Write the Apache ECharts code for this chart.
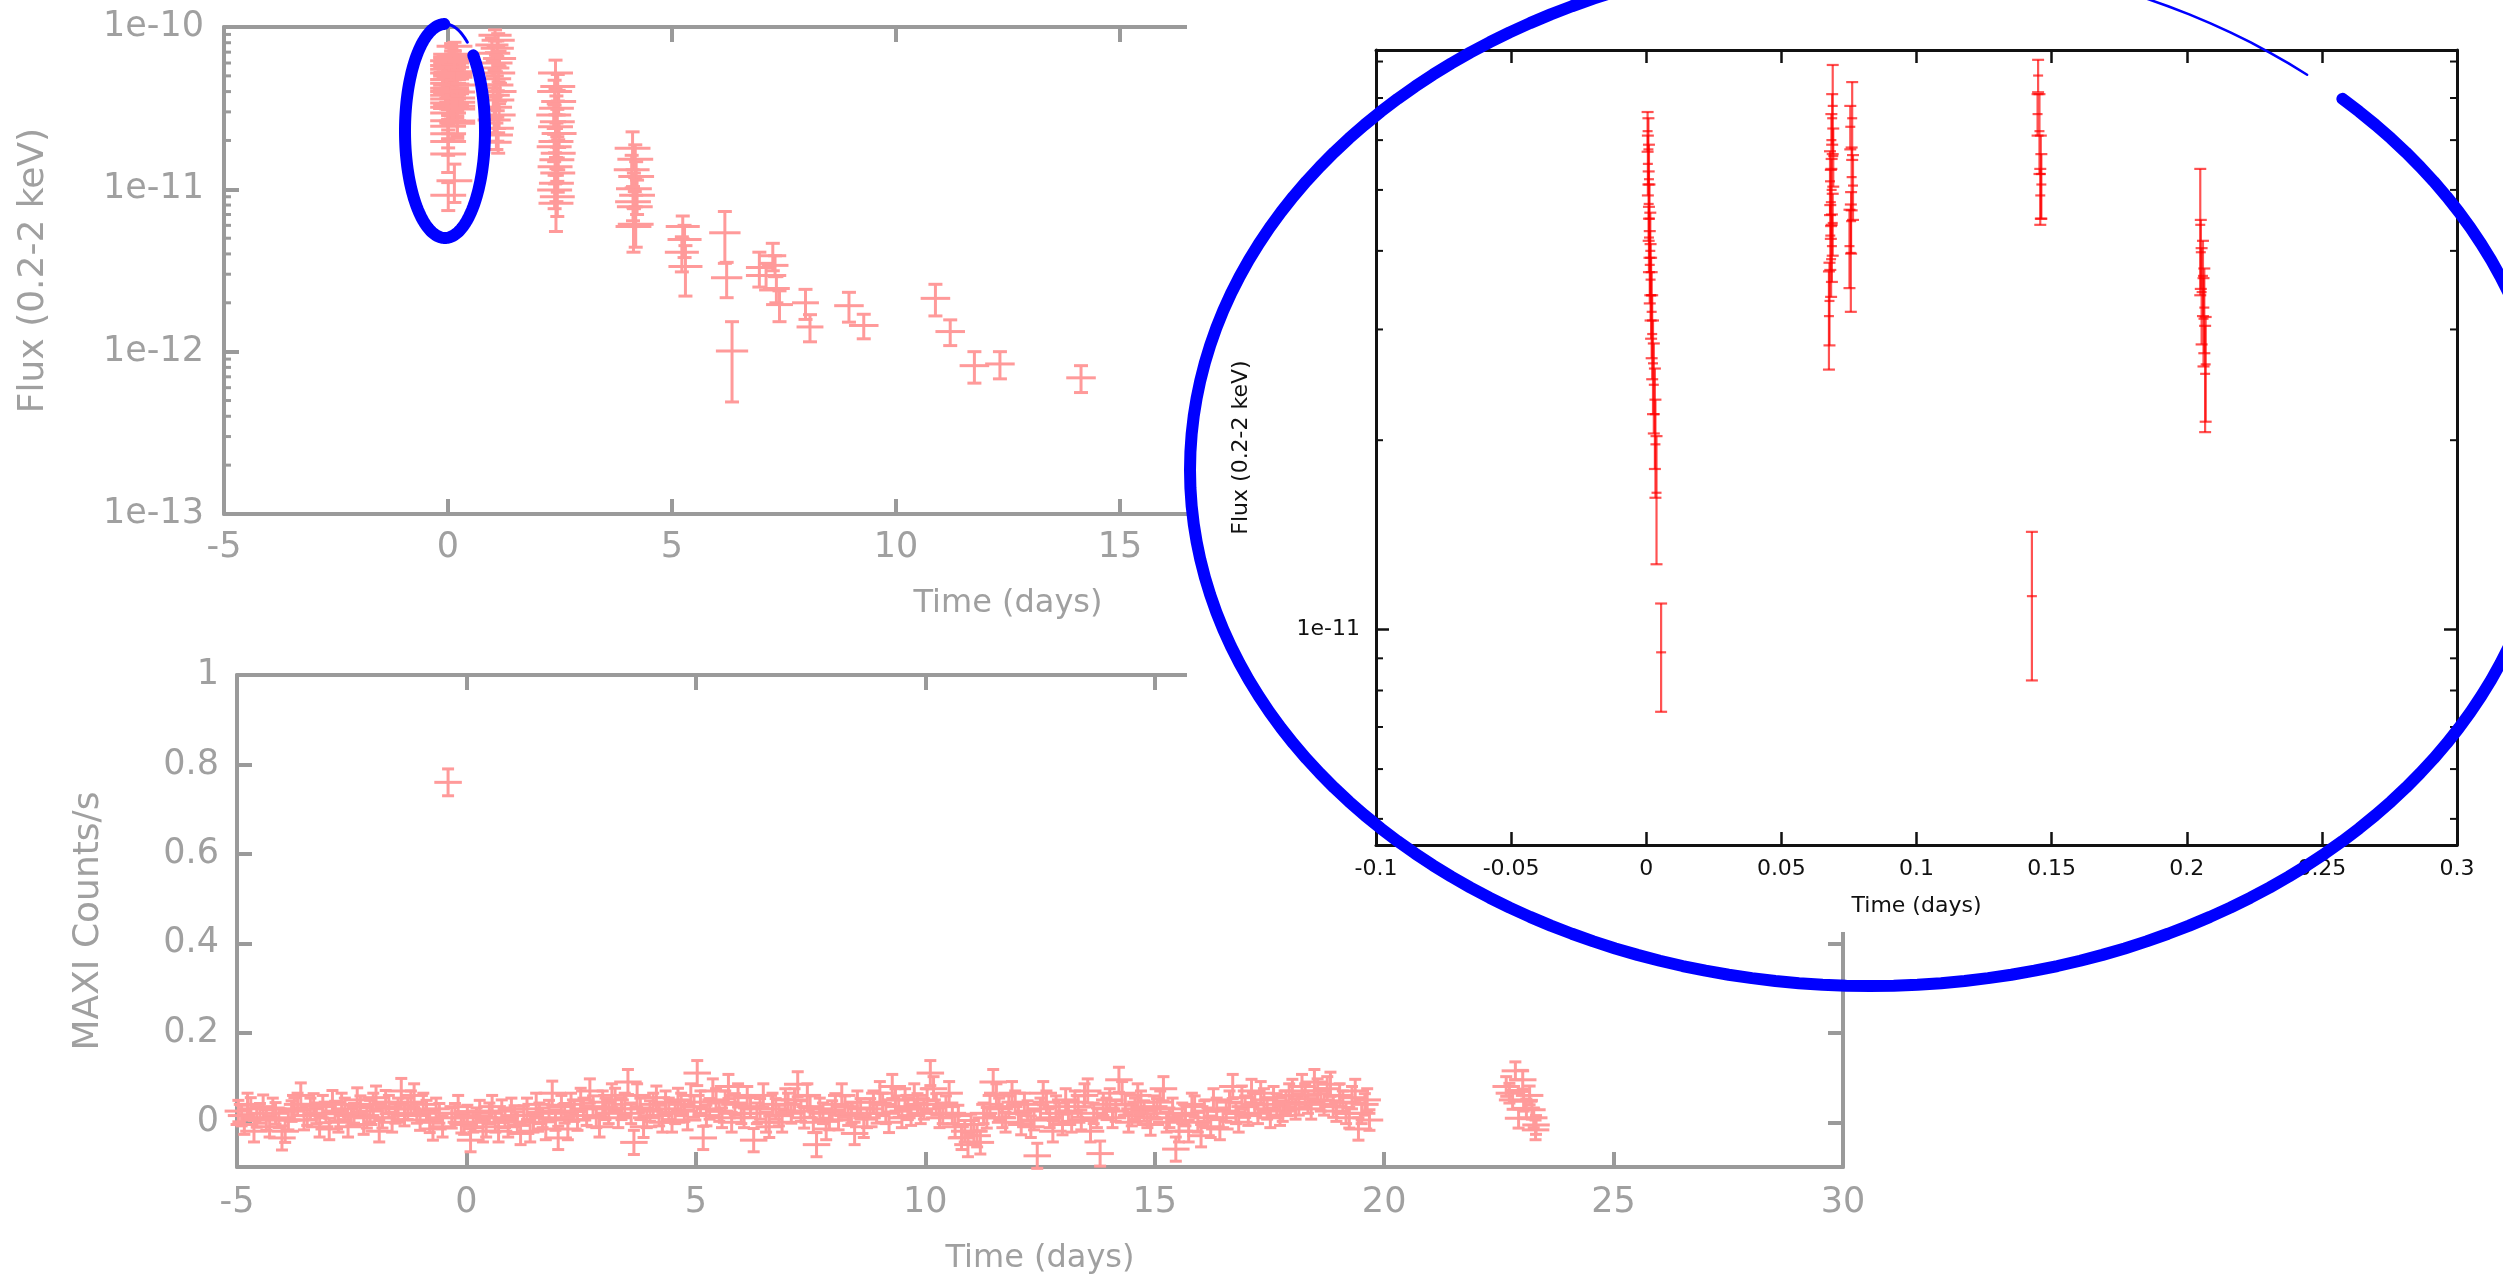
<!DOCTYPE html>
<html>
<head>
<meta charset="utf-8">
<title>Swift XRT and MAXI light curves</title>
<script src="https://cdn.jsdelivr.net/npm/echarts@6/dist/echarts.min.js"></script>
<style>
  html, body { margin: 0; padding: 0; background: #fff; }
  #chart { width: 2503px; height: 1281px; }
</style>
</head>
<body>
<div id="chart"></div>
<script>
// ---- Swift XRT, 0.2-2 keV flux, first day (rows: time [d], flux, 1-sigma error) ----
const xrtVisitA = [
  [0.0005, 6.2e-11, 0.45e-11], [0.0008, 5.8e-11, 0.7e-11], [0.0006, 5.5e-11, 0.6e-11],
  [0.0010, 5.2e-11, 0.7e-11], [0.0009, 4.75e-11, 0.6e-11], [0.0012, 4.5e-11, 0.6e-11],
  [0.0010, 4.2e-11, 0.5e-11], [0.0015, 4.0e-11, 0.6e-11], [0.0013, 3.8e-11, 0.5e-11],
  [0.0016, 3.6e-11, 0.5e-11], [0.0018, 3.4e-11, 0.5e-11], [0.0020, 3.2e-11, 0.5e-11],
  [0.0022, 2.95e-11, 0.45e-11], [0.0025, 2.65e-11, 0.45e-11], [0.0028, 2.45e-11, 0.4e-11],
  [0.0032, 2.2e-11, 0.4e-11], [0.0034, 1.97e-11, 0.35e-11], [0.0038, 1.65e-11, 0.38e-11],
  [0.0055, 9.2e-12, 1.8e-12]
];
const xrtVisitB = [
  [0.0690, 6.8e-11, 1.1e-11], [0.0688, 6.5e-11, 0.6e-11], [0.0685, 6.0e-11, 0.6e-11],
  [0.0692, 5.66e-11, 0.6e-11], [0.0680, 5.16e-11, 0.6e-11], [0.0686, 5.0e-11, 0.6e-11],
  [0.0683, 4.78e-11, 0.6e-11], [0.0690, 4.43e-11, 0.5e-11], [0.0681, 4.23e-11, 0.5e-11],
  [0.0687, 4.07e-11, 0.5e-11], [0.0684, 3.88e-11, 0.5e-11], [0.0678, 3.33e-11, 0.5e-11],
  [0.0676, 3.15e-11, 0.56e-11],
  [0.0762, 6.5e-11, 0.92e-11], [0.0755, 6.3e-11, 0.5e-11], [0.0760, 5.24e-11, 0.6e-11],
  [0.0765, 5.08e-11, 0.6e-11], [0.0758, 4.46e-11, 0.5e-11], [0.0752, 4.07e-11, 0.58e-11],
  [0.0757, 3.97e-11, 0.77e-11]
];
const xrtVisitC = [
  [0.1450, 7.6e-11, 0.45e-11], [0.1448, 6.6e-11, 0.5e-11], [0.1455, 6.2e-11, 0.9e-11],
  [0.1460, 5.3e-11, 0.8e-11], [0.1462, 5.1e-11, 0.6e-11], [0.1458, 4.9e-11, 0.5e-11],
  [0.1427, 1.13e-11, 0.3e-11]
];
const xrtVisitD = [
  [0.2050, 4.4e-11, 1.0e-11], [0.2052, 3.98e-11, 0.5e-11], [0.2060, 3.65e-11, 0.5e-11],
  [0.2055, 3.44e-11, 0.6e-11], [0.2065, 3.25e-11, 0.5e-11], [0.2062, 3.12e-11, 0.5e-11],
  [0.2070, 2.64e-11, 0.5e-11], [0.2068, 2.55e-11, 0.49e-11]
];
// half width of the time bins of the first-day points in the long light curve
const xrtFirstDayHalfBin = 0.4;

// ---- Swift XRT, later visits (rows: time [d], flux, error, half bin width [d]) ----
const xrtLater = [
  [1.05, 8.9e-11, 0.7e-11, 0.37], [1.12, 8.3e-11, 0.8e-11, 0.37], [0.98, 7.75e-11, 0.8e-11, 0.37],
  [1.10, 7.4e-11, 0.8e-11, 0.37], [1.02, 6.9e-11, 0.7e-11, 0.37], [1.15, 6.4e-11, 0.7e-11, 0.37],
  [1.07, 6.0e-11, 0.7e-11, 0.37], [1.00, 5.6e-11, 0.6e-11, 0.37], [1.13, 5.2e-11, 0.6e-11, 0.37],
  [1.04, 4.8e-11, 0.6e-11, 0.37], [1.09, 4.4e-11, 0.6e-11, 0.37], [1.16, 4.0e-11, 0.5e-11, 0.37],
  [1.01, 3.8e-11, 0.6e-11, 0.37], [1.11, 3.55e-11, 0.5e-11, 0.37], [1.06, 3.2e-11, 0.5e-11, 0.37],
  [1.14, 2.87e-11, 0.5e-11, 0.37], [1.03, 2.67e-11, 0.45e-11, 0.37], [1.10, 2.38e-11, 0.4e-11, 0.37],
  [1.08, 2.16e-11, 0.4e-11, 0.37], [1.12, 1.95e-11, 0.28e-11, 0.3],
  [2.40, 5.2e-11, 1.05e-11, 0.39], [2.45, 4.3e-11, 0.8e-11, 0.39], [2.38, 4.0e-11, 0.7e-11, 0.39],
  [2.47, 3.47e-11, 0.6e-11, 0.39], [2.42, 3.16e-11, 0.6e-11, 0.39], [2.36, 2.87e-11, 0.5e-11, 0.39],
  [2.44, 2.61e-11, 0.5e-11, 0.39], [2.40, 2.43e-11, 0.45e-11, 0.39], [2.48, 2.21e-11, 0.4e-11, 0.39],
  [2.41, 1.97e-11, 0.4e-11, 0.39], [2.37, 1.83e-11, 0.35e-11, 0.39], [2.46, 1.67e-11, 0.35e-11, 0.39],
  [2.43, 1.52e-11, 0.3e-11, 0.39], [2.39, 1.38e-11, 0.3e-11, 0.39], [2.45, 1.26e-11, 0.3e-11, 0.39],
  [2.42, 1.09e-11, 0.25e-11, 0.39], [2.38, 9.9e-12, 2.3e-12, 0.39], [2.44, 9.0e-12, 2.2e-12, 0.39],
  [2.41, 8.2e-12, 2.7e-12, 0.39],
  [4.12, 1.79e-11, 0.47e-11, 0.4], [4.18, 1.53e-11, 0.35e-11, 0.4], [4.10, 1.32e-11, 0.3e-11, 0.4],
  [4.20, 1.20e-11, 0.28e-11, 0.4], [4.15, 1.01e-11, 0.25e-11, 0.4], [4.22, 9.2e-12, 2.2e-12, 0.4],
  [4.13, 8.4e-12, 2.0e-12, 0.4], [4.17, 7.8e-12, 1.9e-12, 0.4], [4.19, 6.1e-12, 1.7e-12, 0.4],
  [4.14, 5.9e-12, 1.8e-12, 0.4],
  [5.24, 5.9e-12, 0.95e-12, 0.38], [5.28, 4.9e-12, 1.1e-12, 0.38], [5.22, 4.1e-12, 1.0e-12, 0.38],
  [5.30, 3.35e-12, 1.15e-12, 0.38],
  [6.18, 5.4e-12, 1.9e-12, 0.35], [6.22, 2.85e-12, 0.7e-12, 0.35], [6.34, 1.01e-12, 0.52e-12, 0.36],
  [6.95, 3.3e-12, 0.8e-12, 0.3], [7.10, 2.95e-12, 0.55e-12, 0.45], [7.25, 3.9e-12, 0.75e-12, 0.3],
  [7.30, 3.4e-12, 0.5e-12, 0.3], [7.33, 2.45e-12, 0.45e-12, 0.3], [7.40, 1.95e-12, 0.42e-12, 0.3],
  [7.98, 2.0e-12, 0.42e-12, 0.3], [8.08, 1.42e-12, 0.27e-12, 0.3],
  [8.95, 1.92e-12, 0.4e-12, 0.33], [9.28, 1.45e-12, 0.25e-12, 0.33],
  [10.88, 2.13e-12, 0.47e-12, 0.33], [11.21, 1.33e-12, 0.24e-12, 0.33],
  [11.75, 8.2e-13, 1.8e-13, 0.33], [12.32, 8.4e-13, 1.6e-13, 0.33],
  [14.13, 6.9e-13, 1.3e-13, 0.33]
];

// ---- MAXI count rate (rows: time [d], counts/s, error) ----
const maxiBeforeTrigger = [
  [-4.97,0.025,0.024],[-4.84,-0.005,0.022],[-4.70,0.030,0.025],[-4.57,0.010,0.021],[-4.43,0.035,0.026],
  [-4.29,-0.010,0.023],[-4.16,0.020,0.024],[-4.02,-0.035,0.027],[-3.88,0.005,0.022],[-3.75,0.030,0.025],
  [-3.61,0.060,0.028],[-3.47,0.015,0.022],[-3.33,0.040,0.024],[-3.20,-0.010,0.023],[-3.06,0.020,0.021],
  [-2.92,0.045,0.026],[-2.79,0.000,0.022],[-2.65,0.030,0.024],[-2.51,0.015,0.023],[-2.38,0.050,0.027],
  [-2.24,-0.005,0.022],[-2.10,0.025,0.024],[-1.97,0.055,0.026],[-1.83,0.010,0.023],[-1.69,0.035,0.025],
  [-1.55,0.020,0.022],[-1.42,0.070,0.028],[-1.28,0.030,0.024],[-1.14,0.060,0.026],[-1.01,0.005,0.023],
  [-0.87,0.025,0.024],[-0.73,-0.015,0.025],[-0.59,0.020,0.022],[-0.32,0.010,0.023],[-0.18,0.035,0.025],
  [-0.05,-0.005,0.022],
  [-4.90,0.015,0.023],[-4.77,0.040,0.025],[-4.63,-0.020,0.024],[-4.50,0.020,0.022],[-4.36,0.005,0.023],
  [-4.22,0.030,0.024],[-4.09,0.010,0.022],[-3.95,-0.020,0.025],[-3.81,0.025,0.023],[-3.68,0.040,0.025],
  [-3.54,0.005,0.022],[-3.40,0.030,0.024],[-3.27,0.020,0.023],[-3.13,0.035,0.025],[-2.99,-0.015,0.024],
  [-2.86,0.025,0.022],[-2.72,0.040,0.025],[-2.58,-0.010,0.023],[-2.45,0.020,0.022],[-2.31,0.035,0.024],
  [-2.17,0.010,0.023],[-2.03,0.040,0.025],[-1.90,-0.020,0.024],[-1.76,0.045,0.026],[-1.62,0.000,0.022],
  [-1.49,0.030,0.024],[-1.35,0.015,0.023],[-1.21,0.045,0.025],[-1.08,0.020,0.022],[-0.94,0.040,0.025],
  [-0.80,0.000,0.023],[-0.66,0.030,0.024],[-0.52,-0.010,0.023],[-0.25,0.020,0.022],[-0.11,0.000,0.024]
];
const maxiTrigger = [[-0.40, 0.760, 0.030]];
const maxiDays0to5 = [
  [0.09,-0.040,0.026],[0.22,0.010,0.022],[0.36,-0.020,0.024],[0.50,0.020,0.023],[0.63,0.000,0.022],
  [0.77,0.025,0.025],[0.91,-0.010,0.023],[1.05,0.015,0.022],[1.18,-0.025,0.025],[1.32,0.030,0.024],
  [1.46,0.000,0.022],[1.59,0.020,0.023],[1.73,-0.015,0.024],[1.87,0.065,0.027],[2.00,-0.035,0.026],
  [2.14,0.020,0.022],[2.28,0.040,0.025],[2.42,0.005,0.023],[2.55,0.030,0.024],[2.69,0.070,0.027],
  [2.83,0.010,0.022],[2.97,0.045,0.025],[3.10,0.020,0.023],[3.24,0.050,0.026],[3.38,0.030,0.024],
  [3.52,0.090,0.028],[3.65,-0.045,0.027],[3.79,0.030,0.024],[3.93,0.010,0.022],[4.07,0.040,0.025],
  [4.20,0.015,0.023],[4.34,0.045,0.025],[4.48,0.000,0.022],[4.61,0.050,0.026],[4.75,0.025,0.023],
  [4.89,0.060,0.026],
  [0.02,0.015,0.023],[0.15,0.000,0.022],[0.29,0.025,0.024],[0.43,-0.010,0.023],[0.56,0.035,0.025],
  [0.70,-0.020,0.024],[0.84,0.010,0.022],[0.98,0.030,0.024],[1.11,0.000,0.023],[1.25,0.015,0.022],
  [1.39,-0.020,0.024],[1.52,0.040,0.025],[1.66,0.010,0.022],[1.80,0.025,0.024],[1.94,0.005,0.023],
  [2.07,0.035,0.025],[2.21,-0.015,0.024],[2.35,0.025,0.023],[2.49,0.050,0.026],[2.62,0.015,0.022],
  [2.76,0.035,0.024],[2.90,-0.010,0.023],[3.03,0.030,0.024],[3.17,0.060,0.026],[3.31,0.010,0.022],
  [3.45,0.040,0.025],[3.59,0.020,0.023],[3.72,0.060,0.026],[3.86,-0.010,0.024],[4.00,0.025,0.023],
  [4.14,0.055,0.026],[4.27,0.000,0.022],[4.41,0.030,0.024],[4.55,0.020,0.023],[4.68,0.040,0.025],
  [4.82,0.005,0.022],[4.96,0.035,0.024]
];
const maxiDays5to10 = [
  [5.03,0.110,0.028],[5.16,-0.035,0.026],[5.30,0.030,0.023],[5.44,0.050,0.025],[5.57,0.010,0.022],
  [5.71,0.080,0.027],[5.85,0.040,0.024],[5.99,0.020,0.023],[6.12,0.055,0.025],[6.26,-0.040,0.026],
  [6.40,0.030,0.023],[6.53,0.000,0.022],[6.67,0.040,0.025],[6.81,0.015,0.023],[6.95,0.050,0.025],
  [7.08,0.020,0.022],[7.22,0.085,0.028],[7.36,0.010,0.023],[7.49,0.035,0.024],[7.63,-0.050,0.027],
  [7.77,0.020,0.023],[7.91,0.005,0.022],[8.04,0.040,0.024],[8.18,0.060,0.026],[8.32,0.015,0.022],
  [8.46,-0.025,0.025],[8.59,0.030,0.023],[8.73,0.010,0.022],[8.87,0.045,0.025],[9.01,0.065,0.026],
  [9.14,0.020,0.023],[9.28,0.080,0.027],[9.42,0.035,0.024],[9.56,0.050,0.025],[9.69,0.015,0.022],
  [9.83,0.040,0.024],[9.97,0.030,0.023],
  [5.10,0.045,0.025],[5.23,0.015,0.023],[5.37,0.070,0.027],[5.51,0.025,0.023],[5.64,0.045,0.025],
  [5.78,0.000,0.022],[5.92,0.060,0.026],[6.05,0.010,0.022],[6.19,0.035,0.024],[6.33,0.020,0.023],
  [6.47,0.060,0.026],[6.60,-0.010,0.024],[6.74,0.030,0.023],[6.88,0.000,0.022],[7.01,0.040,0.025],
  [7.15,0.050,0.025],[7.29,0.025,0.023],[7.43,0.060,0.026],[7.56,0.000,0.023],[7.70,0.030,0.024],
  [7.84,-0.015,0.024],[7.97,0.025,0.023],[8.11,0.005,0.022],[8.25,0.035,0.024],[8.39,0.020,0.023],
  [8.52,0.045,0.025],[8.66,-0.010,0.024],[8.80,0.030,0.023],[8.94,0.020,0.022],[9.07,0.040,0.025],
  [9.21,0.000,0.023],[9.35,0.050,0.025],[9.49,0.010,0.022],[9.62,0.030,0.024],[9.76,0.060,0.026],
  [9.90,0.020,0.023]
];
const maxiDays10to15 = [
  [10.11,0.110,0.028],[10.24,0.040,0.024],[10.38,0.020,0.023],[10.52,0.065,0.026],[10.65,-0.010,0.024],
  [10.79,-0.035,0.026],[10.93,-0.050,0.027],[11.06,-0.020,0.024],[11.20,-0.045,0.026],[11.34,0.010,0.023],
  [11.48,0.090,0.028],[11.61,0.030,0.024],[11.75,0.000,0.022],[11.89,0.065,0.026],[12.03,0.020,0.023],
  [12.16,0.040,0.025],[12.30,-0.010,0.024],[12.44,-0.075,0.028],[12.57,0.065,0.026],[12.71,0.010,0.022],
  [12.85,0.035,0.024],[12.99,-0.005,0.023],[13.12,0.025,0.023],[13.26,0.045,0.025],[13.40,0.005,0.022],
  [13.54,0.070,0.027],[13.67,0.020,0.023],[13.81,-0.070,0.028],[13.95,0.030,0.024],[14.08,0.010,0.022],
  [14.22,0.095,0.028],[14.36,0.040,0.024],[14.50,0.015,0.023],[14.63,0.060,0.026],[14.77,0.025,0.023],
  [14.91,-0.005,0.024],
  [10.04,0.050,0.025],[10.18,0.075,0.027],[10.31,0.010,0.022],[10.45,0.035,0.024],[10.59,0.020,0.023],
  [10.72,0.015,0.023],[10.86,-0.020,0.024],[11.00,-0.005,0.023],[11.13,-0.030,0.025],[11.27,0.020,0.023],
  [11.41,0.040,0.025],[11.55,0.060,0.026],[11.68,0.010,0.022],[11.82,0.035,0.024],[11.96,0.045,0.025],
  [12.09,-0.005,0.023],[12.23,0.025,0.023],[12.37,0.005,0.022],[12.51,0.030,0.024],[12.64,0.045,0.025],
  [12.78,-0.020,0.024],[12.92,0.020,0.023],[13.06,0.050,0.025],[13.19,0.000,0.022],[13.33,0.035,0.024],
  [13.47,0.060,0.026],[13.60,-0.020,0.024],[13.74,0.010,0.022],[13.88,0.040,0.025],[14.02,0.050,0.025],
  [14.15,0.025,0.023],[14.29,0.065,0.026],[14.43,0.000,0.022],[14.57,0.030,0.024],[14.70,0.045,0.025],
  [14.84,0.010,0.022],[14.98,0.035,0.024]
];
const maxiDays15to20 = [
  [15.05,0.030,0.023],[15.19,0.075,0.027],[15.32,0.010,0.022],[15.46,-0.060,0.027],[15.60,0.020,0.023],
  [15.74,-0.020,0.024],[15.87,0.035,0.024],[16.01,-0.030,0.025],[16.15,0.010,0.022],[16.28,0.050,0.025],
  [16.42,-0.015,0.024],[16.56,0.025,0.023],[16.70,0.080,0.027],[16.83,0.000,0.022],[16.97,0.035,0.024],
  [17.11,0.070,0.026],[17.25,0.020,0.023],[17.38,0.050,0.025],[17.52,0.010,0.022],[17.66,0.040,0.024],
  [17.79,0.025,0.023],[17.93,0.060,0.026],[18.07,0.030,0.023],[18.21,0.080,0.027],[18.34,0.045,0.025],
  [18.48,0.090,0.028],[18.62,0.050,0.025],[18.76,0.075,0.027],[18.89,0.035,0.024],[19.03,0.060,0.026],
  [19.17,0.020,0.023],[19.30,0.055,0.025],[19.44,-0.015,0.025],[19.58,0.040,0.024],[19.68,0.005,0.023],
  [15.12,0.045,0.025],[15.26,0.000,0.022],[15.39,0.030,0.024],[15.53,-0.020,0.024],[15.67,0.015,0.023],
  [15.81,0.040,0.025],[15.94,0.000,0.022],[16.08,0.025,0.023],[16.22,-0.010,0.024],[16.35,0.030,0.024],
  [16.49,0.010,0.022],[16.63,0.045,0.025],[16.77,0.020,0.023],[16.90,0.055,0.026],[17.04,0.015,0.022],
  [17.18,0.040,0.024],[17.31,0.065,0.026],[17.45,0.030,0.023],[17.59,0.055,0.025],[17.73,0.015,0.022],
  [17.86,0.045,0.025],[18.00,0.070,0.026],[18.14,0.040,0.024],[18.28,0.060,0.026],[18.41,0.030,0.023],
  [18.55,0.070,0.027],[18.69,0.040,0.024],[18.83,0.085,0.027],[18.96,0.025,0.023],[19.10,0.045,0.025],
  [19.24,0.010,0.023],[19.37,0.070,0.026],[19.51,0.020,0.023],[19.63,0.050,0.025]
];
const maxiDay23 = [
  [22.73,0.065,0.022],[22.86,0.115,0.020],[22.93,0.009,0.022],[23.02,0.095,0.021],
  [23.04,0.047,0.022],[23.22,0.028,0.021],[23.30,-0.017,0.022],[23.31,-0.006,0.021],
  [22.66,0.080,0.022],[22.80,0.050,0.021],[23.10,0.030,0.022],[23.17,0.060,0.021],[23.26,0.010,0.022]
];
const maxiHalfBin = 0.3;

// ---- axis ranges and ticks ----
const dayRange = [-5, 30];
const dayTickStep = 5;
const fluxRange = [1e-13, 1e-10];
const maxiRange = [-0.1, 1];
const maxiTickStep = 0.2;
const zoomDayRange = [-0.1, 0.3];
const zoomDayTickStep = 0.05;
const zoomFluxRange = [4.544e-12, 8.345e-11];
const fluxMinorMantissas = [2, 3, 4, 5, 6, 7, 8, 9];
const fluxMinorDecades = [1e-13, 1e-12, 1e-11];
const zoomFluxMinorTicks = [5e-12, 6e-12, 7e-12, 8e-12, 9e-12, 2e-11, 3e-11, 4e-11, 5e-11, 6e-11, 7e-11, 8e-11];

// ---- styling ----
const FONT = 'DejaVu Sans';
const GRAY = '#9a9a9a';
const GRAY_TEXT = '#a0a0a0';
const PINK = '#ff9a9a';
const RED = 'rgba(255,0,0,0.68)';
const INK = '#111111';
const BLUE = '#0000ff';
const TICK_FONT = 35;
const XNAME_FONT = 32;
const YNAME_FONT = 36;

const chart = echarts.init(document.getElementById('chart'), null, { renderer: 'canvas' });

const xrtFirstDay = [...xrtVisitA, ...xrtVisitB, ...xrtVisitC, ...xrtVisitD];
const fluxMinorTicks = [];
fluxMinorDecades.forEach(d => fluxMinorMantissas.forEach(m => fluxMinorTicks.push(m * d)));

// error bar glyph: vertical bar with caps, plus a horizontal bin bar (or a small centre tick)
function errorBar(color, width, capHalf, markHalf) {
  return function (params, api) {
    const x = api.value(0), y = api.value(1), ey = api.value(2), ex = api.value(3);
    const c = api.coord([x, y]);
    const hi = api.coord([x, y + ey]);
    const lo = api.coord([x, y - ey]);
    const seg = (x1, y1, x2, y2) => ({
      type: 'line', shape: { x1, y1, x2, y2 },
      style: { stroke: color, lineWidth: width, fill: null }
    });
    const parts = [
      seg(c[0], hi[1], c[0], lo[1]),
      seg(c[0] - capHalf, hi[1], c[0] + capHalf, hi[1]),
      seg(c[0] - capHalf, lo[1], c[0] + capHalf, lo[1])
    ];
    if (ex > 0) {
      const l = api.coord([x - ex, y]);
      const r = api.coord([x + ex, y]);
      parts.push(seg(l[0], c[1], r[0], c[1]));
    } else {
      parts.push(seg(c[0] - markHalf, c[1], c[0] + markHalf, c[1]));
    }
    return { type: 'group', children: parts };
  };
}

// minor ticks of a log axis, drawn inward on both the left and right frame edges
function logMinorTicks(xLo, xHi, len, color, width) {
  return function (params, api) {
    const v = api.value(1);
    const a = api.coord([xLo, v]);
    const b = api.coord([xHi, v]);
    const st = { stroke: color, lineWidth: width };
    return { type: 'group', children: [
      { type: 'line', shape: { x1: a[0], y1: a[1], x2: a[0] + len, y2: a[1] }, style: st },
      { type: 'line', shape: { x1: b[0] - len, y1: b[1], x2: b[0], y2: b[1] }, style: st }
    ] };
  };
}

function expLabel(v) {
  return '1e' + Math.round(Math.log10(v));
}

function grayAxis(extra) {
  return Object.assign({
    type: 'value',
    axisLine: { onZero: false, lineStyle: { color: GRAY, width: 4 } },
    axisTick: { inside: true, length: 15, lineStyle: { color: GRAY, width: 4 } },
    axisLabel: { color: GRAY_TEXT, fontSize: TICK_FONT, fontFamily: FONT },
    splitLine: { show: false },
    nameTextStyle: { color: GRAY_TEXT, fontSize: XNAME_FONT, fontFamily: FONT }
  }, extra);
}
function inkAxis(extra) {
  return Object.assign({
    type: 'value', z: 20,
    axisLine: { onZero: false, lineStyle: { color: INK, width: 3 } },
    axisTick: { inside: true, length: 13, lineStyle: { color: INK, width: 2.5 } },
    axisLabel: { color: INK, fontSize: 22, fontFamily: FONT },
    splitLine: { show: false },
    nameTextStyle: { color: INK, fontSize: 22, fontFamily: FONT }
  }, extra);
}
const noLabel = { show: false };
const yNameStyle = { color: GRAY_TEXT, fontSize: YNAME_FONT, fontFamily: FONT };

// hand-drawn highlight loops
function loopPoints(cx, cy, rx, ry, fromDeg, toDeg) {
  const pts = [];
  for (let a = fromDeg; a <= toDeg; a += 2) {
    const r = a * Math.PI / 180;
    pts.push([cx + rx * Math.cos(r), cy + ry * Math.sin(r)]);
  }
  return pts;
}
function loop(cx, cy, rx, ry, fromDeg, toDeg, width) {
  return {
    type: 'polyline', z: 30, silent: true,
    shape: { points: loopPoints(cx, cy, rx, ry, fromDeg, toDeg) },
    style: { stroke: BLUE, lineWidth: width, fill: 'none', lineCap: 'round', lineJoin: 'round' }
  };
}

const option = {
  animation: false,
  backgroundColor: '#ffffff',
  textStyle: { fontFamily: FONT },
  grid: [
    { left: 224, top: 27, width: 1568, height: 487 },
    { left: 237, top: 675, width: 1606, height: 492 },
    { left: 1376, top: 50, width: 1081, height: 795 }
  ],
  xAxis: [
    grayAxis({ gridIndex: 0, position: 'bottom', min: dayRange[0], max: dayRange[1], interval: dayTickStep,
      axisLabel: { color: GRAY_TEXT, fontSize: TICK_FONT, fontFamily: FONT, margin: 16 },
      name: 'Time (days)', nameLocation: 'middle', nameGap: 74 }),
    grayAxis({ gridIndex: 0, position: 'top', min: dayRange[0], max: dayRange[1], interval: dayTickStep, axisLabel: noLabel }),
    grayAxis({ gridIndex: 1, position: 'bottom', min: dayRange[0], max: dayRange[1], interval: dayTickStep,
      axisLabel: { color: GRAY_TEXT, fontSize: TICK_FONT, fontFamily: FONT, margin: 18 },
      name: 'Time (days)', nameLocation: 'middle', nameGap: 76 }),
    grayAxis({ gridIndex: 1, position: 'top', min: dayRange[0], max: dayRange[1], interval: dayTickStep, axisLabel: noLabel }),
    inkAxis({ gridIndex: 2, position: 'bottom', min: zoomDayRange[0], max: zoomDayRange[1], interval: zoomDayTickStep,
      axisLabel: { color: INK, fontSize: 22, fontFamily: FONT, margin: 13 },
      name: 'Time (days)', nameLocation: 'middle', nameGap: 50 }),
    inkAxis({ gridIndex: 2, position: 'top', min: zoomDayRange[0], max: zoomDayRange[1], interval: zoomDayTickStep, axisLabel: noLabel })
  ],
  yAxis: [
    grayAxis({ gridIndex: 0, type: 'log', logBase: 10, position: 'left', min: fluxRange[0], max: fluxRange[1],
      axisLabel: { color: GRAY_TEXT, fontSize: TICK_FONT, fontFamily: FONT, margin: 20, formatter: expLabel },
      name: 'Flux (0.2-2 keV)', nameLocation: 'middle', nameGap: 172, nameTextStyle: yNameStyle }),
    grayAxis({ gridIndex: 0, type: 'log', logBase: 10, position: 'right', min: fluxRange[0], max: fluxRange[1], axisLabel: noLabel }),
    grayAxis({ gridIndex: 1, position: 'left', min: maxiRange[0], max: maxiRange[1],
      minInterval: maxiTickStep, maxInterval: maxiTickStep,
      axisLabel: { color: GRAY_TEXT, fontSize: TICK_FONT, fontFamily: FONT, margin: 18, showMinLabel: false },
      name: 'MAXI Counts/s', nameLocation: 'middle', nameGap: 130, nameTextStyle: yNameStyle }),
    grayAxis({ gridIndex: 1, position: 'right', min: maxiRange[0], max: maxiRange[1],
      minInterval: maxiTickStep, maxInterval: maxiTickStep, axisLabel: noLabel }),
    inkAxis({ gridIndex: 2, type: 'log', logBase: 10, position: 'left', min: zoomFluxRange[0], max: zoomFluxRange[1],
      axisLabel: { color: INK, fontSize: 22, fontFamily: FONT, margin: 16, formatter: expLabel,
        showMinLabel: false, showMaxLabel: false },
      name: 'Flux (0.2-2 keV)', nameLocation: 'middle', nameGap: 124 }),
    inkAxis({ gridIndex: 2, type: 'log', logBase: 10, position: 'right', min: zoomFluxRange[0], max: zoomFluxRange[1],
      axisLabel: noLabel })
  ],
  series: [
    {
      name: 'XRT first day', type: 'custom', xAxisIndex: 0, yAxisIndex: 0, z: 2,
      renderItem: errorBar(PINK, 3, 7, 0),
      data: xrtFirstDay.map(r => [r[0], r[1], r[2], xrtFirstDayHalfBin])
    },
    {
      name: 'XRT later', type: 'custom', xAxisIndex: 0, yAxisIndex: 0, z: 2,
      renderItem: errorBar(PINK, 3, 7, 0),
      data: xrtLater
    },
    {
      name: 'flux minor ticks', type: 'custom', xAxisIndex: 0, yAxisIndex: 0, z: 3, silent: true,
      renderItem: logMinorTicks(dayRange[0], dayRange[1], 7, GRAY, 3),
      data: fluxMinorTicks.map(v => [dayRange[0], v])
    },
    {
      name: 'MAXI', type: 'custom', xAxisIndex: 2, yAxisIndex: 2, z: 2,
      renderItem: errorBar(PINK, 3, 6, 0),
      data: [...maxiBeforeTrigger, ...maxiTrigger, ...maxiDays0to5, ...maxiDays5to10,
             ...maxiDays10to15, ...maxiDays15to20, ...maxiDay23].map(r => [r[0], r[1], r[2], maxiHalfBin])
    },
    {
      name: 'XRT first day (zoom)', type: 'custom', xAxisIndex: 4, yAxisIndex: 4, z: 22,
      renderItem: errorBar(RED, 2.2, 6, 5),
      data: xrtFirstDay.map(r => [r[0], r[1], r[2], 0])
    },
    {
      name: 'zoom minor ticks', type: 'custom', xAxisIndex: 4, yAxisIndex: 4, z: 22, silent: true,
      renderItem: logMinorTicks(zoomDayRange[0], zoomDayRange[1], 7, INK, 2),
      data: zoomFluxMinorTicks.map(v => [zoomDayRange[0], v])
    }
  ],
  graphic: {
    elements: [
      { type: 'rect', z: 10, silent: true, shape: { x: 1187, y: 0, width: 1316, height: 932 }, style: { fill: '#ffffff' } },
      loop(1870, 470, 680, 516, -46, 290, 12),
      loop(1870, 470, 680, 516, 290, 311, 2.5),
      loop(445, 131, 40, 107, -45, 270, 12),
      loop(445, 131, 40, 107, -90, -55, 3)
    ]
  }
};

chart.setOption(option);
</script>
</body>
</html>
